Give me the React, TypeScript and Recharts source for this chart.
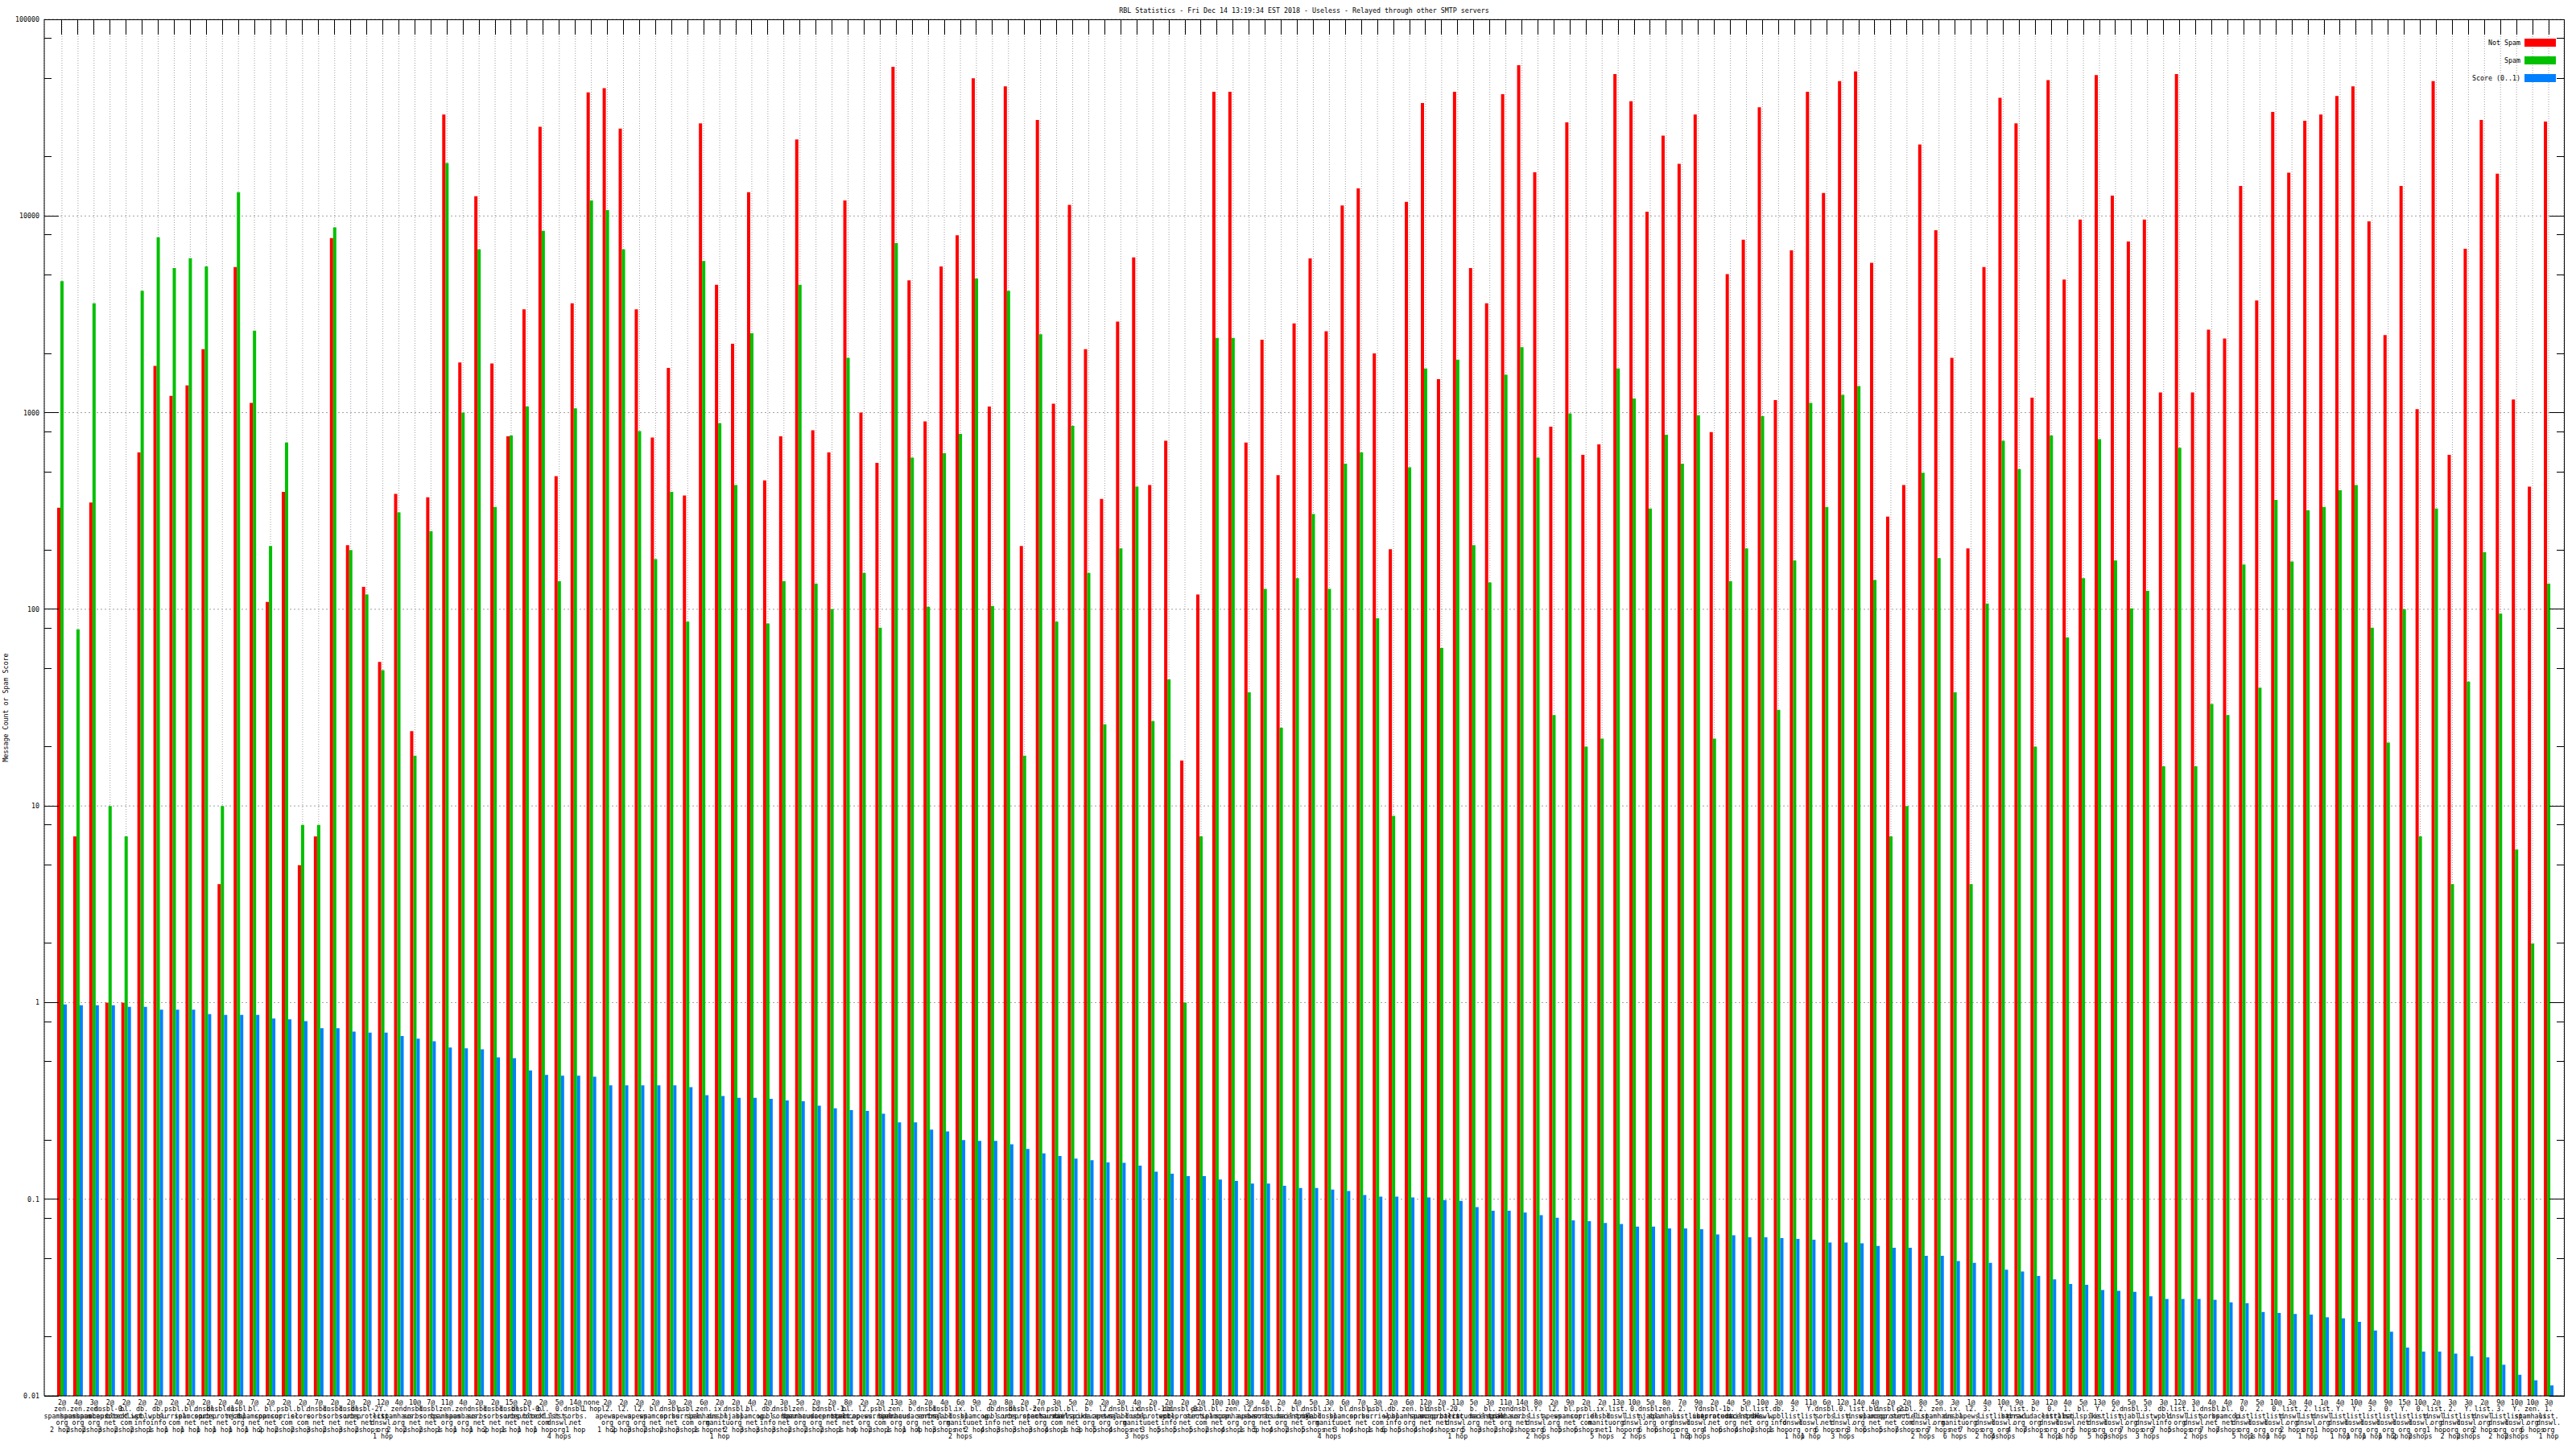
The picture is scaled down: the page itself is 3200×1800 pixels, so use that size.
import { BarChart, Bar, XAxis, YAxis, CartesianGrid, Legend } from 'recharts';

const W = 3200;
const H = 1800;
const PLOT_LEFT = 55;
const PLOT_TOP = 24;
const PLOT_RIGHT = 3185;
const PLOT_BOTTOM = 1734;
const FONT = '"DejaVu Sans Mono", monospace';
const FS = 8.3;

// category labels, lines split on "|"
const LABELS = [
  '2@|zen.|spamhaus.|org|2 hops', '4@|zen.|spamhaus.|org|2 hops', '3@|zen.|spamhaus.|org|2 hops',
  '2@|dnsbl-0.|uceprotect.|net|3 hops', '2@|bl.|blocklist.|com|2 hops', '2@|db.|wpbl.|info|2 hops',
  '2@|db.|wpbl.|info|1 hop', '2@|psbl.|surriel.|com|1 hop', '2@|bl.|spamcop.|net|1 hop',
  '2@|dnsbl.|sorbs.|net|1 hop', '2@|dnsbl-1.|uceprotect.|net|1 hop', '4@|dnsbl.|njabl.|org|1 hop',
  '7@|bl.|spamcop.|net|1 hop', '2@|bl.|spamcop.|net|2 hops', '2@|psbl.|surriel.|com|2 hops',
  '2@|bl.|score.|com|2 hops', '7@|dnsbl.|sorbs.|net|3 hops', '2@|dnsbl.|sorbs.|net|2 hops',
  '2@|dnsbl.|sorbs.|net|3 hops', '2@|dnsbl-2.|uceprotect.|net|2 hops', '12@|Y.|list.|dnswl.|org|1 hop',
  '4@|zen.|spamhaus.|org|2 hops', '10@|dnsbl.|sorbs.|net|2 hops', '7@|dnsbl.|sorbs.|net|2 hops',
  '11@|zen.|spamhaus.|org|1 hop', '4@|zen.|spamhaus.|org|1 hop', '2@|dnsbl.|sorbs.|net|1 hop',
  '2@|dnsbl.|sorbs.|net|2 hops', '15@|dnsbl.|sorbs.|net|1 hop', '2@|dnsbl-0.|uceprotect.|net|1 hop',
  '2@|bl.|blocklist.|com|1 hop', '5@|0.|list.|dnswl.|org|4 hops', '14@|dnsbl.|sorbs.|net|1 hop',
  'none|1 hop', '2@|l2.|apews.|org|1 hop', '2@|l2.|apews.|org|2 hops',
  '2@|l2.|apews.|org|3 hops', '2@|bl.|spamcop.|net|2 hops', '3@|dnsbl.|sorbs.|net|2 hops',
  '2@|psbl.|surriel.|com|3 hops', '6@|zen.|spamhaus.|org|1 hop', '2@|ix.|dnsbl.|manitu.|net|1 hop',
  '2@|dnsbl.|njabl.|org|2 hops', '4@|bl.|spamcop.|net|3 hops', '2@|db.|wpbl.|info|3 hops',
  '3@|dnsbl.|sorbs.|net|3 hops', '5@|zen.|spamhaus.|org|2 hops', '2@|b.|barracudacentral.|org|2 hops',
  '2@|dnsbl-1.|uceprotect.|net|2 hops', '8@|bl.|spamcop.|net|1 hop', '2@|l2.|apews.|org|4 hops',
  '2@|psbl.|surriel.|com|2 hops', '13@|zen.|spamhaus.|org|1 hop', '3@|b.|barracudacentral.|org|1 hop',
  '2@|dnsbl.|sorbs.|net|4 hops', '4@|dnsbl.|njabl.|org|3 hops', '6@|ix.|dnsbl.|manitu.|net|2 hops',
  '9@|bl.|spamcop.|net|2 hops', '2@|db.|wpbl.|info|4 hops', '8@|dnsbl.|sorbs.|net|3 hops',
  '2@|dnsbl-2.|uceprotect.|net|3 hops', '7@|zen.|spamhaus.|org|3 hops', '3@|psbl.|surriel.|com|4 hops',
  '5@|bl.|mailspike.|net|1 hop', '2@|b.|barracudacentral.|org|3 hops', '2@|l2.|apews.|org|5 hops',
  '3@|dnsbl.|njabl.|org|4 hops', '4@|ix.|dnsbl.|manitu.|net|3 hops', '2@|dnsbl-1.|uceprotect.|net|3 hops',
  '2@|db.|wpbl.|info|5 hops', '2@|dnsbl-0.|uceprotect.|net|5 hops', '2@|psbl.|surriel.|com|5 hops',
  '10@|bl.|spamcop.|net|2 hops', '10@|zen.|spamhaus.|org|4 hops', '3@|l2.|apews.|org|1 hop',
  '4@|dnsbl.|sorbs.|net|5 hops', '2@|b.|barracudacentral.|org|4 hops', '4@|bl.|mailspike.|net|2 hops',
  '5@|dnsbl.|njabl.|org|5 hops', '3@|ix.|dnsbl.|manitu.|net|4 hops', '6@|bl.|spamcop.|net|3 hops',
  '7@|dnsbl.|sorbs.|net|4 hops', '3@|psbl.|surriel.|com|1 hop', '2@|db.|wpbl.|info|6 hops',
  '6@|zen.|spamhaus.|org|5 hops', '12@|bl.|spamcop.|net|4 hops', '2@|dnsbl-2.|uceprotect.|net|4 hops',
  '11@|0.|list.|dnswl.|org|1 hop', '5@|b.|barracudacentral.|org|5 hops', '3@|bl.|mailspike.|net|3 hops',
  '11@|zen.|spamhaus.|org|2 hops', '14@|dnsbl.|sorbs.|net|2 hops', '8@|Y.|list.|dnswl.|org|2 hops',
  '2@|l2.|apews.|org|6 hops', '9@|bl.|spamcop.|net|5 hops', '2@|psbl.|surriel.|com|6 hops',
  '2@|ix.|dnsbl.|manitu.|net|5 hops', '13@|list.|dnswl.|org|1 hop', '10@|0.|list.|dnswl.|org|2 hops',
  '5@|dnsbl.|njabl.|org|6 hops', '8@|zen.|spamhaus.|org|6 hops', '7@|2.|list.|dnswl.|org|1 hop',
  '9@|Y.|list.|dnswl.|org|3 hops', '2@|dnsbl-1.|uceprotect.|net|4 hops', '4@|b.|barracudacentral.|org|6 hops',
  '5@|bl.|mailspike.|net|4 hops', '10@|list.|dnswl.|org|2 hops', '3@|db.|wpbl.|info|1 hop',
  '4@|3.|list.|dnswl.|org|1 hop', '11@|Y.|list.|dnswl.|org|1 hop', '6@|dnsbl.|sorbs.|net|6 hops',
  '12@|0.|list.|dnswl.|org|3 hops', '14@|list.|dnswl.|org|3 hops', '4@|bl.|spamcop.|net|6 hops',
  '2@|dnsbl-2.|uceprotect.|net|5 hops', '2@|psbl.|surriel.|com|7 hops', '8@|2.|list.|dnswl.|org|2 hops',
  '5@|zen.|spamhaus.|org|7 hops', '3@|ix.|dnsbl.|manitu.|net|6 hops', '1@|l2.|apews.|org|7 hops',
  '4@|3.|list.|dnswl.|org|2 hops', '10@|Y.|list.|dnswl.|org|4 hops', '9@|list.|dnswl.|org|4 hops',
  '3@|b.|barracudacentral.|org|7 hops', '12@|0.|list.|dnswl.|org|4 hops', '4@|1.|list.|dnswl.|org|1 hop',
  '5@|bl.|mailspike.|net|5 hops', '13@|Y.|list.|dnswl.|org|5 hops', '6@|2.|list.|dnswl.|org|3 hops',
  '5@|dnsbl.|njabl.|org|7 hops', '5@|3.|list.|dnswl.|org|3 hops', '3@|db.|wpbl.|info|7 hops',
  '12@|list.|dnswl.|org|5 hops', '3@|1.|list.|dnswl.|org|2 hops', '4@|dnsbl.|sorbs.|net|7 hops',
  '4@|bl.|spamcop.|net|7 hops', '7@|0.|list.|dnswl.|org|5 hops', '5@|2.|list.|dnswl.|org|1 hop',
  '10@|0.|list.|dnswl.|org|1 hop', '3@|list.|dnswl.|org|2 hops', '4@|2.|list.|dnswl.|org|1 hop',
  '1@|list.|dnswl.|org|1 hop', '4@|Y.|list.|dnswl.|org|1 hop', '10@|Y.|list.|dnswl.|org|1 hop',
  '4@|3.|list.|dnswl.|org|1 hop', '9@|0.|list.|dnswl.|org|1 hop', '15@|Y.|list.|dnswl.|org|2 hops',
  '10@|0.|list.|dnswl.|org|2 hops', '2@|list.|dnswl.|org|1 hop', '3@|2.|list.|dnswl.|org|2 hops',
  '3@|Y.|list.|dnswl.|org|2 hops', '2@|list.|dnswl.|org|2 hops', '9@|3.|list.|dnswl.|org|2 hops',
  '10@|Y.|list.|dnswl.|org|2 hops', '10@|zen.|spamhaus.|org|6 hops', '3@|1.|list.|dnswl.|org|1 hop',
];

const NOT_SPAM = [
  328, 7, 349, 1, 1, 628, 1730, 1216, 1377, 2100, 4, 5500, 1120, 109, 395, 5, 7, 7720, 212, 130,
  54, 386, 24, 371, 32800, 1800, 12600, 1780, 757, 3350, 28400, 475, 3600, 42500, 44700, 27800, 3350, 748, 1690, 379,
  29600, 4470, 2240, 13200, 452, 757, 24500, 813, 628, 12000, 1000, 555, 57300, 4710, 902, 5540, 7970, 50100, 1075, 45600,
  210, 30800, 1110, 11400, 2100, 364, 2900, 6150, 428, 720, 17, 119, 42800, 42800, 705, 2350, 481, 2840, 6090, 2590,
  11300, 13800, 2000, 202, 11800, 37500, 1480, 42800, 5430, 3600, 41600, 58500, 16700, 848, 29900, 610, 690, 52700, 38300, 10500,
  25600, 18400, 32800, 796, 5060, 7570, 35700, 1157, 6680, 42800, 13100, 48500, 54300, 5780, 296, 428, 23100, 8470, 1900, 204,
  5500, 39900, 29600, 1190, 49100, 4750, 9590, 52100, 12700, 7420, 9590, 1268, 52700, 1268, 2640, 2380, 14200, 3720, 33800, 16600,
  30500, 32800, 40700, 45600, 9390, 2480, 14200, 1042, 48500, 610, 6820, 30800, 16400, 1167, 420, 30200,
];

const SPAM = [
  4660, 79, 3600, 10, 7, 4160, 7800, 5430, 6100, 5540, 10, 13200, 2610, 210, 705, 8, 8, 8750, 200, 119,
  49, 311, 18, 250, 18600, 1000, 6760, 331, 765, 1075, 8400, 139, 1052, 12000, 10700, 6760, 805, 180, 395, 86.5,
  5900, 883, 428, 2535, 84.7, 139, 4470, 135, 100, 1900, 153, 80.5, 7270, 590, 103, 622, 780, 4810, 104, 4160,
  18, 2500, 86.5, 857, 153, 26, 204, 420, 27, 44, 1, 7, 2400, 2400, 37.8, 127, 25, 144, 305, 127,
  550, 628, 90, 8.9, 527, 1675, 63.5, 1860, 212, 137, 1560, 2150, 590, 29, 990, 20, 22, 1675, 1180, 325,
  773, 550, 970, 22, 139, 204, 960, 30.8, 177, 1120, 331, 1230, 1365, 141, 7, 10, 495, 182, 37.8, 4,
  107, 720, 516, 20, 765, 72, 144, 733, 177, 101, 124, 15.9, 662, 15.9, 33, 29, 169, 39.9, 360, 175,
  318, 331, 403, 428, 80.5, 21, 100, 7, 325, 4, 42.9, 195, 95, 6, 2, 135,
];

const SCORE = [
  0.979, 0.969, 0.969, 0.969, 0.95, 0.95, 0.921, 0.921, 0.921, 0.874, 0.865, 0.865, 0.865, 0.83, 0.822, 0.805, 0.741, 0.741, 0.711, 0.704,
  0.704, 0.676, 0.655, 0.635, 0.591, 0.585, 0.579, 0.527, 0.522, 0.452, 0.429, 0.425, 0.425, 0.42, 0.379, 0.379, 0.379, 0.379, 0.379, 0.371,
  0.338, 0.335, 0.328, 0.328, 0.324, 0.318, 0.315, 0.299, 0.29, 0.284, 0.281, 0.272, 0.246, 0.246, 0.226, 0.221, 0.2, 0.198, 0.198, 0.19,
  0.18, 0.171, 0.166, 0.161, 0.158, 0.154, 0.153, 0.148, 0.138, 0.135, 0.131, 0.131, 0.126, 0.124, 0.12, 0.12, 0.117, 0.114, 0.114, 0.112,
  0.11, 0.105, 0.103, 0.103, 0.102, 0.102, 0.099, 0.098, 0.0911, 0.0874, 0.0874, 0.0856, 0.083, 0.0805, 0.0781, 0.0773, 0.0757, 0.0749, 0.0726, 0.0726,
  0.0711, 0.0711, 0.0704, 0.0662, 0.0655, 0.0641, 0.0641, 0.0635, 0.0628, 0.0622, 0.0603, 0.0603, 0.0597, 0.0579, 0.0567, 0.0567, 0.0516, 0.0516, 0.0485, 0.0475,
  0.0475, 0.0438, 0.0429, 0.0407, 0.0391, 0.0371, 0.0367, 0.0345, 0.0342, 0.0338, 0.0321, 0.0311, 0.0311, 0.0311, 0.0308, 0.0299, 0.0296, 0.0267, 0.0264, 0.0261,
  0.0259, 0.0251, 0.0248, 0.0238, 0.0215, 0.0212, 0.0176, 0.0168, 0.0168, 0.0164, 0.0159, 0.0157, 0.0144, 0.0128, 0.012, 0.0113,
];

const SERIES_ORDER = ['Not Spam', 'Spam', 'Score (0..1)'];

const MAJOR_TICKS = [0.01, 0.1, 1, 10, 100, 1000, 10000, 100000];
const MINOR_TICKS = [
  0.02, 0.05, 0.08, 0.2, 0.5, 0.8, 2, 5, 8, 20, 50, 80, 200, 500, 800, 2000, 5000, 8000, 20000, 50000, 80000,
];
const Y_TICKS = [...MAJOR_TICKS, ...MINOR_TICKS].sort((a, b) => a - b);

const data = LABELS.map((label, i) => ({
  id: String(i),
  notSpam: NOT_SPAM[i],
  spam: SPAM[i],
  score: SCORE[i],
}));

function XTick(props: any) {
  const { x, y, payload } = props;
  const lines = LABELS[Number(payload.value)].split('|');
  return (
    <g>
      <line x1={x} x2={x} y1={PLOT_TOP} y2={PLOT_TOP + 19} stroke="#000" shapeRendering="crispEdges" />
      <text x={x} y={y} textAnchor="middle" fontSize={FS} fontFamily={FONT} fill="#000">
        {lines.map((l, k) => (
          <tspan key={k} x={x} dy={k === 0 ? 11 : 8.4}>
            {l}
          </tspan>
        ))}
      </text>
    </g>
  );
}

function YTick(props: any) {
  const { y, payload } = props;
  const v = payload.value;
  const major = MAJOR_TICKS.includes(v);
  const len = major ? 18 : 9;
  return (
    <g>
      <line x1={PLOT_LEFT} x2={PLOT_LEFT + len} y1={y} y2={y} stroke="#000" shapeRendering="crispEdges" />
      <line x1={PLOT_RIGHT - len} x2={PLOT_RIGHT} y1={y} y2={y} stroke="#000" shapeRendering="crispEdges" />
      {major && (
        <text x={PLOT_LEFT - 6} y={y} dy={3} textAnchor="end" fontSize={FS} fontFamily={FONT} fill="#000">
          {String(v)}
        </text>
      )}
    </g>
  );
}

function YTitle() {
  const cx = 7;
  const cy = (PLOT_TOP + PLOT_BOTTOM) / 2;
  return (
    <text
      x={cx}
      y={cy}
      transform={`rotate(-90 ${cx} ${cy})`}
      textAnchor="middle"
      dominantBaseline="central"
      fontSize={FS}
      fontFamily={FONT}
      fill="#000"
    >
      Message Count or Spam Score
    </text>
  );
}

function LegendBox(props: any) {
  const items = [...(props.payload || [])].sort(
    (a: any, b: any) => SERIES_ORDER.indexOf(a.value) - SERIES_ORDER.indexOf(b.value)
  );
  return (
    <div style={{ fontFamily: FONT, fontSize: FS }}>
      {items.map((p: any) => (
        <div
          key={p.value}
          style={{ display: 'flex', justifyContent: 'flex-end', alignItems: 'center', height: 22 }}
        >
          <span style={{ marginRight: 5 }}>{p.value}</span>
          <span style={{ display: 'inline-block', width: 39, height: 10, background: p.color }} />
        </div>
      ))}
    </div>
  );
}

export default function App() {
  return (
    <div style={{ position: 'absolute', left: 0, top: 0, width: W, height: H, background: '#fff' }}>
      <div
        style={{
          position: 'absolute',
          left: PLOT_LEFT,
          top: 7,
          width: PLOT_RIGHT - PLOT_LEFT,
          textAlign: 'center',
          fontFamily: FONT,
          fontSize: FS,
          lineHeight: '12px',
        }}
      >
        RBL Statistics - Fri Dec 14 13:19:34 EST 2018 - Useless - Relayed through other SMTP servers
      </div>
      <BarChart
        width={W}
        height={H}
        data={data}
        margin={{ top: PLOT_TOP, right: W - PLOT_RIGHT, bottom: 0, left: 0 }}
        barGap={0}
        barSize={4}
      >
        <CartesianGrid
          vertical={false}
          horizontalValues={MAJOR_TICKS}
          stroke="#a0a0a0"
          strokeDasharray="2 3"
        />
        <CartesianGrid horizontal={false} stroke="#a0a0a0" strokeDasharray="1 2" />
        <XAxis
          dataKey="id"
          interval={0}
          height={H - PLOT_BOTTOM}
          padding={{ left: 12, right: 9 }}
          tickLine={false}
          tickSize={0}
          tickMargin={0}
          tick={XTick}
          axisLine={{ stroke: '#000' }}
        />
        <YAxis
          type="number"
          scale="log"
          domain={[0.01, 100000]}
          allowDataOverflow
          ticks={Y_TICKS}
          interval={0}
          width={PLOT_LEFT}
          tickLine={false}
          tickSize={0}
          tickMargin={0}
          tick={YTick}
          axisLine={{ stroke: '#000' }}
          label={{ content: YTitle }}
        />
        <Legend
          layout="horizontal"
          verticalAlign="middle"
          align="center"
          wrapperStyle={{ left: 2995, top: 42, width: 180 }}
          content={LegendBox}
        />
        <Bar dataKey="notSpam" name="Not Spam" fill="#ff0000" isAnimationActive={false} />
        <Bar dataKey="spam" name="Spam" fill="#00c000" isAnimationActive={false} />
        <Bar dataKey="score" name="Score (0..1)" fill="#0080ff" isAnimationActive={false} />
      </BarChart>
      <div style={{ position: 'absolute', left: PLOT_LEFT, top: PLOT_TOP, width: PLOT_RIGHT - PLOT_LEFT + 1, height: 1, background: '#000' }} />
      <div style={{ position: 'absolute', left: PLOT_RIGHT, top: PLOT_TOP, width: 1, height: PLOT_BOTTOM - PLOT_TOP + 1, background: '#000' }} />
    </div>
  );
}
